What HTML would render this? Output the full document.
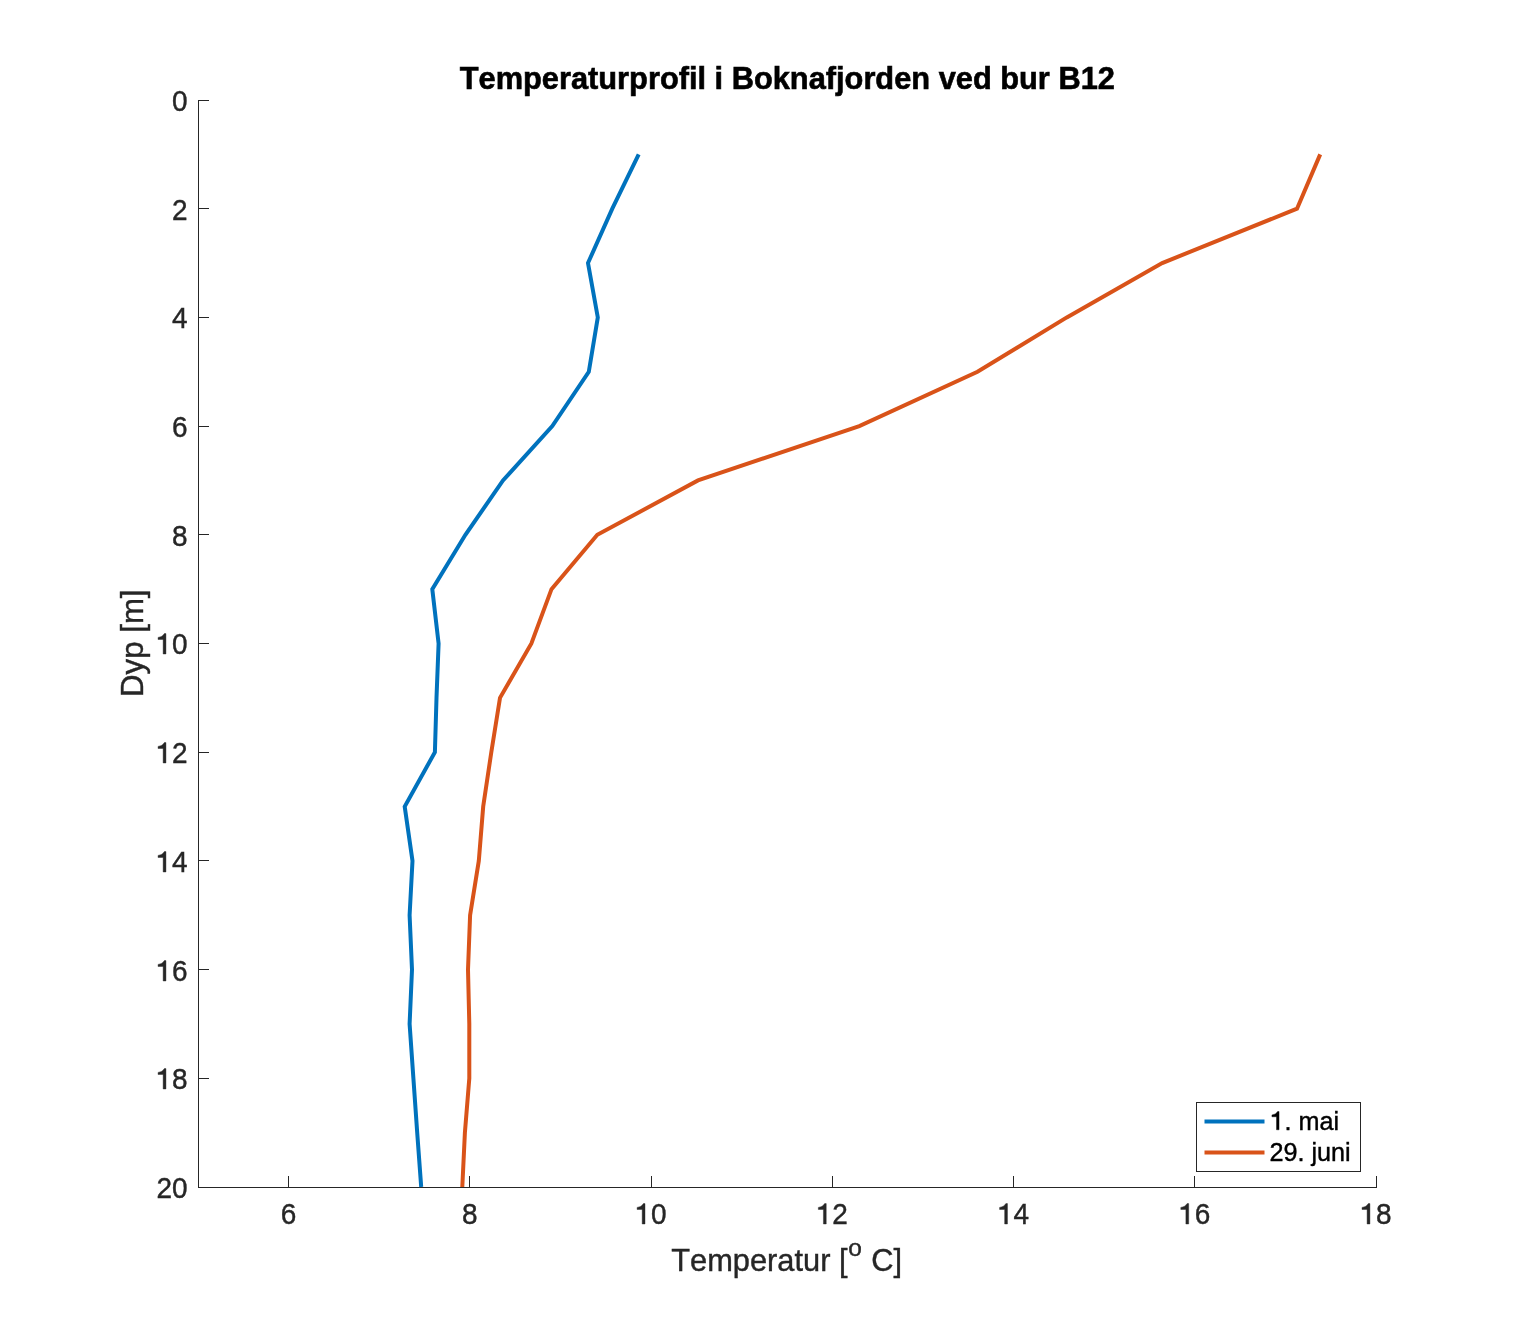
<!DOCTYPE html>
<html><head><meta charset="utf-8"><title>Temperaturprofil i Boknafjorden ved bur B12</title>
<style>html,body{margin:0;padding:0;background:#fff;}body{width:1520px;height:1334px;overflow:hidden;font-family:"Liberation Sans",sans-serif;}svg{display:block;will-change:transform;}text{font-kerning:none;font-feature-settings:"kern" 0;}</style>
</head><body>
<svg width="1520" height="1334" viewBox="0 0 1520 1334" font-family="Liberation Sans, sans-serif">
<g stroke="#262626" stroke-width="1" shape-rendering="crispEdges" fill="none">
<line x1="198.5" y1="100" x2="198.5" y2="1188"/>
<line x1="198" y1="1187.5" x2="1377" y2="1187.5"/>
<line x1="198" y1="100.5" x2="209" y2="100.5"/>
<line x1="198" y1="208.5" x2="209" y2="208.5"/>
<line x1="198" y1="317.5" x2="209" y2="317.5"/>
<line x1="198" y1="426.5" x2="209" y2="426.5"/>
<line x1="198" y1="534.5" x2="209" y2="534.5"/>
<line x1="198" y1="643.5" x2="209" y2="643.5"/>
<line x1="198" y1="752.5" x2="209" y2="752.5"/>
<line x1="198" y1="860.5" x2="209" y2="860.5"/>
<line x1="198" y1="969.5" x2="209" y2="969.5"/>
<line x1="198" y1="1078.5" x2="209" y2="1078.5"/>
<line x1="198" y1="1187.5" x2="209" y2="1187.5"/>
<line x1="288.5" y1="1176" x2="288.5" y2="1188"/>
<line x1="469.5" y1="1176" x2="469.5" y2="1188"/>
<line x1="651.5" y1="1176" x2="651.5" y2="1188"/>
<line x1="832.5" y1="1176" x2="832.5" y2="1188"/>
<line x1="1013.5" y1="1176" x2="1013.5" y2="1188"/>
<line x1="1194.5" y1="1176" x2="1194.5" y2="1188"/>
<line x1="1376.5" y1="1176" x2="1376.5" y2="1188"/>
</g>
<polyline points="638.70,154.35 612.30,208.70 588.00,263.05 597.80,317.40 588.80,371.75 552.30,426.10 503.00,480.45 465.40,534.80 432.30,589.15 438.60,643.50 436.50,697.85 434.90,752.20 404.70,806.55 412.50,860.90 409.60,915.25 412.00,969.60 409.60,1023.95 413.40,1078.30 417.20,1132.65 421.20,1187.00" fill="none" stroke="#0072BD" stroke-width="4.0" stroke-linejoin="miter"/>
<polyline points="1320.20,154.35 1297.00,208.70 1162.20,263.05 1066.80,317.40 977.50,371.75 859.30,426.10 698.00,480.45 597.30,534.80 551.50,589.15 531.40,643.50 500.00,697.85 491.30,752.20 483.20,806.55 478.80,860.90 470.10,915.25 468.00,969.60 469.30,1023.95 469.30,1078.30 464.90,1132.65 462.30,1187.00" fill="none" stroke="#D95319" stroke-width="4.0" stroke-linejoin="miter"/>
<g transform="translate(172.03,111.00) scale(1,1.035)" fill="#262626" stroke="#262626" stroke-width="0.4"><text x="0.00" y="0" font-size="28">0</text></g>
<g transform="translate(172.03,220.00) scale(1,1.035)" fill="#262626" stroke="#262626" stroke-width="0.4"><text x="0.00" y="0" font-size="28">2</text></g>
<g transform="translate(172.03,328.00) scale(1,1.035)" fill="#262626" stroke="#262626" stroke-width="0.4"><text x="0.00" y="0" font-size="28">4</text></g>
<g transform="translate(172.03,437.00) scale(1,1.035)" fill="#262626" stroke="#262626" stroke-width="0.4"><text x="0.00" y="0" font-size="28">6</text></g>
<g transform="translate(172.03,546.00) scale(1,1.035)" fill="#262626" stroke="#262626" stroke-width="0.4"><text x="0.00" y="0" font-size="28">8</text></g>
<g transform="translate(156.46,654.00) scale(1,1.035)" fill="#262626" stroke="#262626" stroke-width="0.4"><path d="M9.49,0.00 L9.49,-19.71 L7.90,-19.71 Q6.02,-16.38 1.60,-16.02 L1.60,-14.00 L6.69,-14.00 L6.69,0.00Z"/><text x="15.57" y="0" font-size="28">0</text></g>
<g transform="translate(156.46,763.00) scale(1,1.035)" fill="#262626" stroke="#262626" stroke-width="0.4"><path d="M9.49,0.00 L9.49,-19.71 L7.90,-19.71 Q6.02,-16.38 1.60,-16.02 L1.60,-14.00 L6.69,-14.00 L6.69,0.00Z"/><text x="15.57" y="0" font-size="28">2</text></g>
<g transform="translate(156.46,872.00) scale(1,1.035)" fill="#262626" stroke="#262626" stroke-width="0.4"><path d="M9.49,0.00 L9.49,-19.71 L7.90,-19.71 Q6.02,-16.38 1.60,-16.02 L1.60,-14.00 L6.69,-14.00 L6.69,0.00Z"/><text x="15.57" y="0" font-size="28">4</text></g>
<g transform="translate(156.46,981.00) scale(1,1.035)" fill="#262626" stroke="#262626" stroke-width="0.4"><path d="M9.49,0.00 L9.49,-19.71 L7.90,-19.71 Q6.02,-16.38 1.60,-16.02 L1.60,-14.00 L6.69,-14.00 L6.69,0.00Z"/><text x="15.57" y="0" font-size="28">6</text></g>
<g transform="translate(156.46,1089.00) scale(1,1.035)" fill="#262626" stroke="#262626" stroke-width="0.4"><path d="M9.49,0.00 L9.49,-19.71 L7.90,-19.71 Q6.02,-16.38 1.60,-16.02 L1.60,-14.00 L6.69,-14.00 L6.69,0.00Z"/><text x="15.57" y="0" font-size="28">8</text></g>
<g transform="translate(156.46,1198.00) scale(1,1.035)" fill="#262626" stroke="#262626" stroke-width="0.4"><text x="0.00" y="0" font-size="28">20</text></g>
<g transform="translate(280.83,1224.00) scale(1,1.035)" fill="#262626" stroke="#262626" stroke-width="0.4"><text x="0.00" y="0" font-size="28">6</text></g>
<g transform="translate(462.06,1224.00) scale(1,1.035)" fill="#262626" stroke="#262626" stroke-width="0.4"><text x="0.00" y="0" font-size="28">8</text></g>
<g transform="translate(635.51,1224.00) scale(1,1.035)" fill="#262626" stroke="#262626" stroke-width="0.4"><path d="M9.49,0.00 L9.49,-19.71 L7.90,-19.71 Q6.02,-16.38 1.60,-16.02 L1.60,-14.00 L6.69,-14.00 L6.69,0.00Z"/><text x="15.57" y="0" font-size="28">0</text></g>
<g transform="translate(816.74,1224.00) scale(1,1.035)" fill="#262626" stroke="#262626" stroke-width="0.4"><path d="M9.49,0.00 L9.49,-19.71 L7.90,-19.71 Q6.02,-16.38 1.60,-16.02 L1.60,-14.00 L6.69,-14.00 L6.69,0.00Z"/><text x="15.57" y="0" font-size="28">2</text></g>
<g transform="translate(997.97,1224.00) scale(1,1.035)" fill="#262626" stroke="#262626" stroke-width="0.4"><path d="M9.49,0.00 L9.49,-19.71 L7.90,-19.71 Q6.02,-16.38 1.60,-16.02 L1.60,-14.00 L6.69,-14.00 L6.69,0.00Z"/><text x="15.57" y="0" font-size="28">4</text></g>
<g transform="translate(1179.20,1224.00) scale(1,1.035)" fill="#262626" stroke="#262626" stroke-width="0.4"><path d="M9.49,0.00 L9.49,-19.71 L7.90,-19.71 Q6.02,-16.38 1.60,-16.02 L1.60,-14.00 L6.69,-14.00 L6.69,0.00Z"/><text x="15.57" y="0" font-size="28">6</text></g>
<g transform="translate(1360.43,1224.00) scale(1,1.035)" fill="#262626" stroke="#262626" stroke-width="0.4"><path d="M9.49,0.00 L9.49,-19.71 L7.90,-19.71 Q6.02,-16.38 1.60,-16.02 L1.60,-14.00 L6.69,-14.00 L6.69,0.00Z"/><text x="15.57" y="0" font-size="28">8</text></g>
<text transform="translate(787.30,88.60) scale(1,1.03)" text-anchor="middle" font-size="30.8" fill="#000" stroke="#000" stroke-width="0.6" font-weight="bold">Temperaturprofil i Boknafjorden ved bur B12</text>
<text transform="translate(671.30,1270.70) scale(1,1.048)" text-anchor="start" font-size="30.8" fill="#262626" stroke="#262626" stroke-width="0.4" >Temperatur [</text>
<text transform="translate(848.20,1255.60) scale(1,0.97)" text-anchor="start" font-size="24.5" fill="#262626" stroke="#262626" stroke-width="0.4" >o</text>
<text transform="translate(871.30,1270.70) scale(1,1.048)" text-anchor="start" font-size="30.8" fill="#262626" stroke="#262626" stroke-width="0.4" >C]</text>
<text transform="translate(143.10,643.20) rotate(-90) scale(1,1.035)" text-anchor="middle" font-size="31.2" fill="#262626" stroke="#262626" stroke-width="0.4" >Dyp [m]</text>
<rect x="1196.5" y="1102.5" width="164" height="69" fill="#fff" stroke="#262626" stroke-width="1" shape-rendering="crispEdges"/>
<line x1="1204.5" y1="1121.5" x2="1264.5" y2="1121.5" stroke="#0072BD" stroke-width="4.0"/>
<line x1="1204.5" y1="1152.4" x2="1264.5" y2="1152.4" stroke="#D95319" stroke-width="4.0"/>
<g transform="translate(1270.50,1129.80) scale(1,1.032)" fill="#000" stroke="#000" stroke-width="0.4"><path d="M8.54,0.00 L8.54,-17.74 L7.11,-17.74 Q5.42,-14.74 1.44,-14.41 L1.44,-12.60 L6.02,-12.60 L6.02,0.00Z"/><text x="14.01" y="0" font-size="25.2">. mai</text></g>
<g transform="translate(1269.50,1160.90) scale(1,1.032)" fill="#000" stroke="#000" stroke-width="0.4"><text x="0.00" y="0" font-size="25.2">29. juni</text></g>
</svg>
</body></html>
